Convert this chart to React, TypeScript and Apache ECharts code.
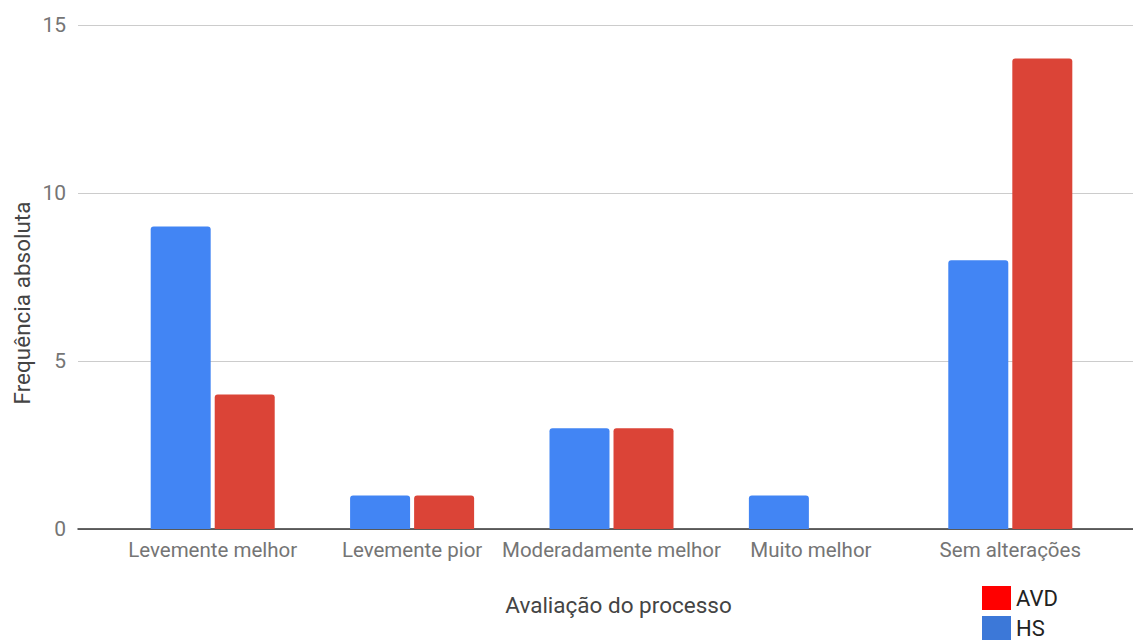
import React, { useEffect, useRef } from "react";
import * as echarts from "echarts";

const categories = [
  "Levemente melhor",
  "Levemente pior",
  "Moderadamente melhor",
  "Muito melhor",
  "Sem alterações",
];
const hsValues = [9, 1, 3, 1, 8];
const avdValues = [4, 1, 3, 0, 14];
const yTicks = { min: 0, max: 15, interval: 5 };

const FONT = "Roboto, 'Noto Sans', sans-serif";

const legendBase = {
  orient: "vertical",
  left: 982,
  padding: 0,
  itemWidth: 29,
  itemHeight: 24,
  itemGap: 5,
  icon: "rect",
  textStyle: { fontSize: 22, color: "#222", fontFamily: FONT },
};

export default function App() {
  const ref = useRef<HTMLDivElement>(null);

  useEffect(() => {
    if (!ref.current) return;
    const chart = echarts.init(ref.current, null, { renderer: "svg" });
    chart.setOption({
      animation: false,
      textStyle: { fontFamily: FONT },
      grid: [
        // frame for the value gridlines and baseline
        { left: 78, right: 0, top: 25, bottom: 111 },
        // bars live in a narrower band inside it
        { left: 113, width: 997, top: 25, bottom: 111 },
      ],
      legend: [
        {
          ...legendBase,
          top: 586,
          data: [{ name: "AVD", itemStyle: { color: "#ff0000" } }],
        },
        {
          ...legendBase,
          top: 616,
          data: [{ name: "HS", itemStyle: { color: "#3c78d8" } }],
        },
      ],
      xAxis: [
        {
          gridIndex: 0,
          type: "value",
          min: 0,
          max: 1,
          axisLabel: { show: false },
          axisTick: { show: false },
          splitLine: { show: false },
          axisLine: { show: true, lineStyle: { color: "#333", width: 1.5 } },
        },
        {
          gridIndex: 1,
          type: "category",
          data: categories,
          axisLine: { show: false },
          axisTick: { show: false },
          axisLabel: { fontSize: 20.5, color: "#757575", margin: 10, interval: 0 },
          name: "Avaliação do processo",
          nameLocation: "middle",
          nameGap: 64,
          nameTextStyle: { fontSize: 22.5, color: "#444", padding: [0, 0, 0, 14] },
        },
      ],
      yAxis: [
        {
          gridIndex: 0,
          type: "value",
          min: yTicks.min,
          max: yTicks.max,
          interval: yTicks.interval,
          axisLine: { show: false },
          axisTick: { show: false },
          axisLabel: { fontSize: 21, color: "#757575", margin: 12 },
          splitLine: { lineStyle: { color: "#ccc", width: 1 } },
        },
        {
          gridIndex: 1,
          type: "value",
          min: yTicks.min,
          max: yTicks.max,
          interval: yTicks.interval,
          show: false,
        },
      ],
      graphic: [
        {
          type: "text",
          x: 22,
          y: 303,
          rotation: Math.PI / 2,
          style: {
            text: "Frequência absoluta",
            fontSize: 22.5,
            fill: "#444",
            fontFamily: FONT,
            align: "center",
            verticalAlign: "middle",
          },
        },
      ],
      series: [
        {
          name: "HS",
          type: "bar",
          xAxisIndex: 1,
          yAxisIndex: 1,
          data: hsValues,
          barWidth: 60,
          barGap: "6.7%",
          itemStyle: { color: "#4285f4", borderRadius: [3, 3, 0, 0] },
        },
        {
          name: "AVD",
          type: "bar",
          xAxisIndex: 1,
          yAxisIndex: 1,
          data: avdValues,
          barWidth: 60,
          barGap: "6.7%",
          itemStyle: { color: "#db4437", borderRadius: [3, 3, 0, 0] },
        },
      ],
    });
    return () => chart.dispose();
  }, []);

  return <div ref={ref} style={{ width: 1133, height: 640, position: "absolute", left: 0, top: 0 }} />;
}
